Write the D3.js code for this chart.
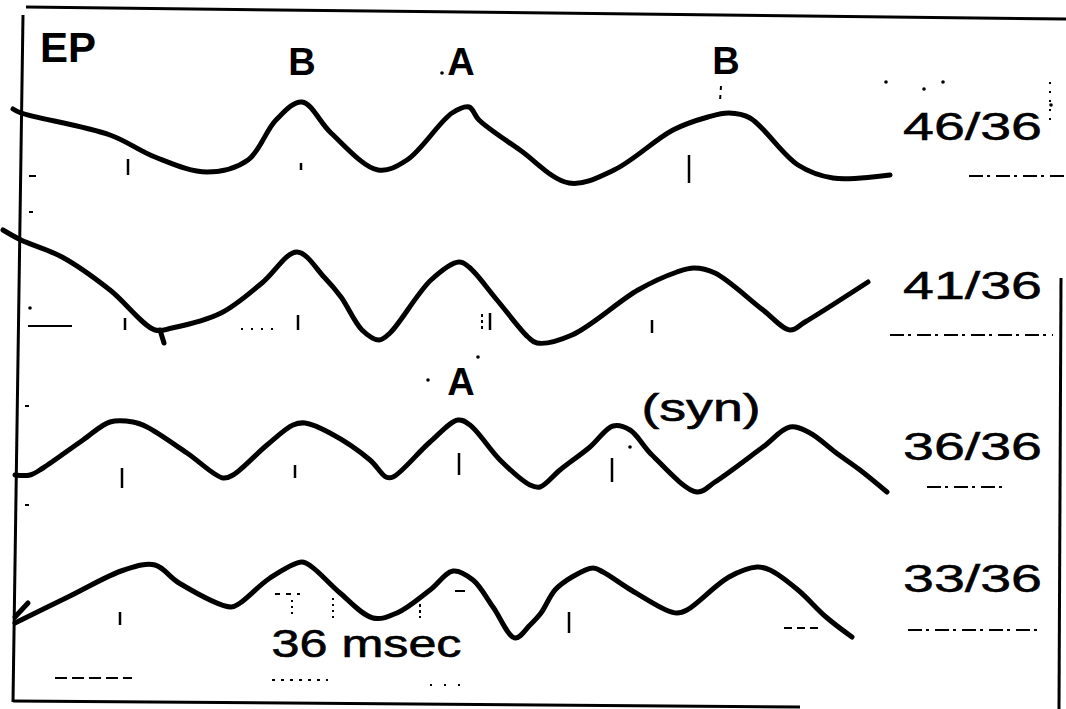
<!DOCTYPE html>
<head>
  <title>EP traces</title>
  <meta charset="utf-8">
  <script type="text/javascript" src="https://cdn.jsdelivr.net/npm/d3@7/dist/d3.min.js"></script>
  <style>
    body { margin: 0; background: #fff; }
  </style>
</head>

<body>

<div id="container"></div>

<script>

  // stimulus ratio of each trace, top to bottom
  const labels = ['46/36', '41/36', '36/36', '33/36'];

  // traces: time in msec, amplitude in arbitrary units (+ is up)
  const t46 = [-0.4, 1.2, 19, 28, 38.4, 46.6, 52.2, 57.4, 63.2, 72.6, 78.4, 87.4, 90.8, 92.8, 101, 110.8, 119.8, 131.6, 138.6, 142.8, 147, 156.6, 163.6, 175];
  const a46 = [33.5, 31.5, 20.5, 9.5, 2, 8, 28, 37, 21.5, 3, 8, 31.5, 34.5, 28, 13, -3.5, 3, 23, 29.5, 31.5, 29, 5.5, -1, 0.5];

  const t41 = [-2.4, 1.2, 9.4, 19, 28, 31.4, 41.2, 49.4, 56.4, 61.8, 65.2, 69.4, 72.8, 75, 83.2, 88.8, 90.8, 96.4, 102.6, 104.4, 111.4, 124.6, 132.4, 135.8, 140, 149.6, 155, 158, 170.6];
  const a41 = [49, 44, 35.5, 19, -1, 0, 7.5, 22.5, 38, 25.5, 15.5, -1, -6, -2.5, 24, 33, 30.5, 14, -4.5, -7.5, -3.5, 19, 28, 30, 27.5, 9, -1, 3, 23];

  const t36 = [0, 3, 5.6, 13.6, 19, 23.6, 26.4, 34.4, 41.6, 43.6, 50.4, 55.6, 58, 63, 71, 74.2, 75.6, 83, 88.6, 91, 97, 103, 105, 109, 115, 119.6, 123, 127.4, 136.4, 140, 149.6, 155, 159, 164, 169, 174.4];
  const a36 = [2.5, 2.5, 6, 20, 29, 29, 26.5, 13.5, 1, 2.5, 17.5, 27.5, 28.5, 23.5, 10, 1.5, 1.5, 19, 30, 27.5, 10, -2.5, -3.5, 5, 16.5, 27, 25, 12.5, -6, -1, 16.5, 26.5, 23.5, 14, 5, -6];

  const t33 = [0, 11, 21.8, 28, 32.8, 43.2, 45, 51, 57.4, 59.4, 65, 71.6, 76.4, 83, 87.6, 91.6, 95.6, 100, 103, 105.2, 108, 111.4, 115.6, 117.6, 123.2, 130.2, 132.4, 134.4, 142.8, 148.4, 151, 156.6, 162.2, 167.4];
  const a33 = [4.5, 18, 31, 33.5, 24.5, 12.5, 14.5, 27, 35, 32.5, 19.5, 7, 9.5, 21, 30.5, 26, 12.5, -3, 3.5, 9.5, 21, 27.5, 32, 30, 21, 11, 9.5, 11, 27.5, 32.5, 31, 21, 7.5, -2.5];

  // time marks under each trace: [time, top amplitude, bottom amplitude]
  const ticks46 = [[22.6, 8.5, 0.5], [57.2, 6.5, 3], [134.8, 10.5, -3.5]];
  const ticks41 = [[22, 5, -1], [56.6, 6.5, -1], [95, 7.5, -1], [127.4, 4, -2.5]];
  const ticks36 = [[21.4, 6, -4], [56, 7.5, 1], [88.8, 13.5, 2.5], [119.4, 11, -1]];
  const ticks33 = [[21, 10, 3.5], [110.8, 10, -0.5]];

  // short pen strokes drawn onto the traces: [row, t0, a0, t1, a1]
  const stubs = [['41/36', 29, -1, 29.8, -7.5], ['33/36', 0, 7.5, 2.6, 14.5]];

  // peak and scale annotations: [text, row, time, amplitude]
  const notes = [
    ['B', '46/36', 57.4, 50.5],
    ['A', '46/36', 89.2, 50.5],
    ['B', '46/36', 142.2, 51],
    ['A', '36/36', 89.2, 42.5],
    ['(syn)', '36/36', 137.2, 29.5],
    ['36 msec', '33/36', 70.3, -12.5]
  ];

  const width = 1066;
  const height = 709;
  const font = '"Liberation Sans", Arial, Helvetica, sans-serif';

  const x = d3.scaleLinear().domain([0, 180]).range([15, 915]);
  const row = d3.scalePoint().domain(labels).range([176, 632]);
  const amp = d3.scaleLinear().domain([0, 50]).range([0, -100]);

  const svg = d3.select('div#container').append('svg')
    .attr('width', width)
    .attr('height', height)
    .style('display', 'block')
    .style('background', '#fff');

  // hand drawn frame (slightly skewed, as on the scan)
  const frame = [
    [26, 7, 1066, 19],
    [23, 15, 13, 702],
    [13, 701, 800, 707],
    [1061, 278, 1059, 709]
  ];
  svg.append('g').selectAll('line')
    .data(frame)
    .join('line')
      .attr('x1', d => d[0]).attr('y1', d => d[1])
      .attr('x2', d => d[2]).attr('y2', d => d[3])
      .attr('stroke', '#000')
      .attr('stroke-width', 3);

  const traces = [
    {label: labels[0], t: t46, a: a46, ticks: ticks46},
    {label: labels[1], t: t41, a: a41, ticks: ticks41},
    {label: labels[2], t: t36, a: a36, ticks: ticks36},
    {label: labels[3], t: t33, a: a33, ticks: ticks33}
  ];

  traces.forEach(tr => {
    const y0 = row(tr.label);
    const g = svg.append('g');

    const traceLine = d3.line()
      .x(d => x(d[0]))
      .y(d => y0 + amp(d[1]))
      .curve(d3.curveCatmullRom.alpha(0.5));

    g.append('path')
      .datum(d3.zip(tr.t, tr.a))
      .attr('d', traceLine)
      .attr('fill', 'none')
      .attr('stroke', '#000')
      .attr('stroke-width', 5)
      .attr('stroke-linecap', 'round')
      .attr('stroke-linejoin', 'round');

    g.selectAll('line.tick')
      .data(tr.ticks)
      .join('line')
        .attr('class', 'tick')
        .attr('x1', d => x(d[0])).attr('x2', d => x(d[0]))
        .attr('y1', d => y0 + amp(d[1])).attr('y2', d => y0 + amp(d[2]))
        .attr('stroke', '#000')
        .attr('stroke-width', 2.5);
  });

  svg.append('g').selectAll('line')
    .data(stubs)
    .join('line')
      .attr('x1', d => x(d[1])).attr('y1', d => row(d[0]) + amp(d[2]))
      .attr('x2', d => x(d[3])).attr('y2', d => row(d[0]) + amp(d[4]))
      .attr('stroke', '#000')
      .attr('stroke-width', 5)
      .attr('stroke-linecap', 'round');

  // faint dashes and specks of the scan: [x1, y1, x2, y2, dash]
  const marks = [
    [29, 176, 36, 176, null], [29, 212, 33, 212, null], [28, 326, 72, 326, null],
    [25, 406, 29, 406, null], [25, 505, 29, 505, null],
    [241, 329, 276, 329, '2 8'], [482, 314, 482, 330, '3 3'], [490, 316, 490, 330, '2 4'],
    [721, 86, 720, 101, '4 5'], [1050, 82, 1050, 122, '2 7'],
    [275, 594, 300, 594, '5 6'], [292, 600, 292, 618, '2 4'], [333, 598, 333, 620, '2 4'],
    [420, 604, 420, 618, '3 3'], [455, 591, 465, 591, null],
    [55, 678, 132, 678, '12 5'], [272, 680, 328, 680, '3 6'], [430, 685, 470, 685, '2 12'],
    [784, 628, 819, 628, '8 5']
  ];
  svg.append('g').selectAll('line')
    .data(marks)
    .join('line')
      .attr('x1', d => d[0]).attr('y1', d => d[1])
      .attr('x2', d => d[2]).attr('y2', d => d[3])
      .attr('stroke', '#000')
      .attr('stroke-width', 2)
      .attr('stroke-dasharray', d => d[4]);

  const specks = [[442, 73], [886, 82], [924, 89], [943, 82], [1051, 105], [428, 380], [478, 357], [630, 447], [30, 308]];
  svg.append('g').selectAll('circle')
    .data(specks)
    .join('circle')
      .attr('cx', d => d[0]).attr('cy', d => d[1])
      .attr('r', 1.8)
      .attr('fill', '#000');

  // dashed baselines beside the ratio labels
  const baseRuns = [[969, 1066, 176], [890, 1053, 335], [927, 1003, 487], [908, 1038, 630]];
  svg.append('g').selectAll('line')
    .data(baseRuns)
    .join('line')
      .attr('x1', d => d[0]).attr('x2', d => d[1])
      .attr('y1', d => d[2]).attr('y2', d => d[2])
      .attr('stroke', '#000')
      .attr('stroke-width', 2)
      .attr('stroke-dasharray', '14 4 3 6');

  // ratio labels on the right
  const labelBaselines = [140, 299, 460, 592];
  svg.append('g').selectAll('text')
    .data(labels)
    .join('text')
      .attr('x', 903)
      .attr('y', (d, i) => labelBaselines[i])
      .attr('textLength', 139)
      .attr('lengthAdjust', 'spacingAndGlyphs')
      .style('font-family', font)
      .style('font-size', '38px')
      .style('stroke', '#000')
      .style('stroke-width', 0.5)
      .text(d => d);

  svg.append('text')
    .attr('x', 40)
    .attr('y', 62)
    .style('font-family', font)
    .style('font-size', '42px')
    .style('font-weight', 'bold')
    .text('EP');

  // annotations: single letters bold, words stretched wide like the lettering
  const wideText = {'(syn)': 119, '36 msec': 190};
  svg.append('g').selectAll('text')
    .data(notes)
    .join('text')
      .attr('x', d => x(d[2]))
      .attr('y', d => row(d[1]) + amp(d[3]))
      .attr('text-anchor', 'middle')
      .attr('textLength', d => wideText[d[0]] || null)
      .attr('lengthAdjust', 'spacingAndGlyphs')
      .style('font-family', font)
      .style('font-size', '38px')
      .style('font-weight', d => wideText[d[0]] ? 'normal' : 'bold')
      .style('stroke', d => wideText[d[0]] ? '#000' : 'none')
      .style('stroke-width', 0.6)
      .text(d => d[0]);

</script>

</body>
